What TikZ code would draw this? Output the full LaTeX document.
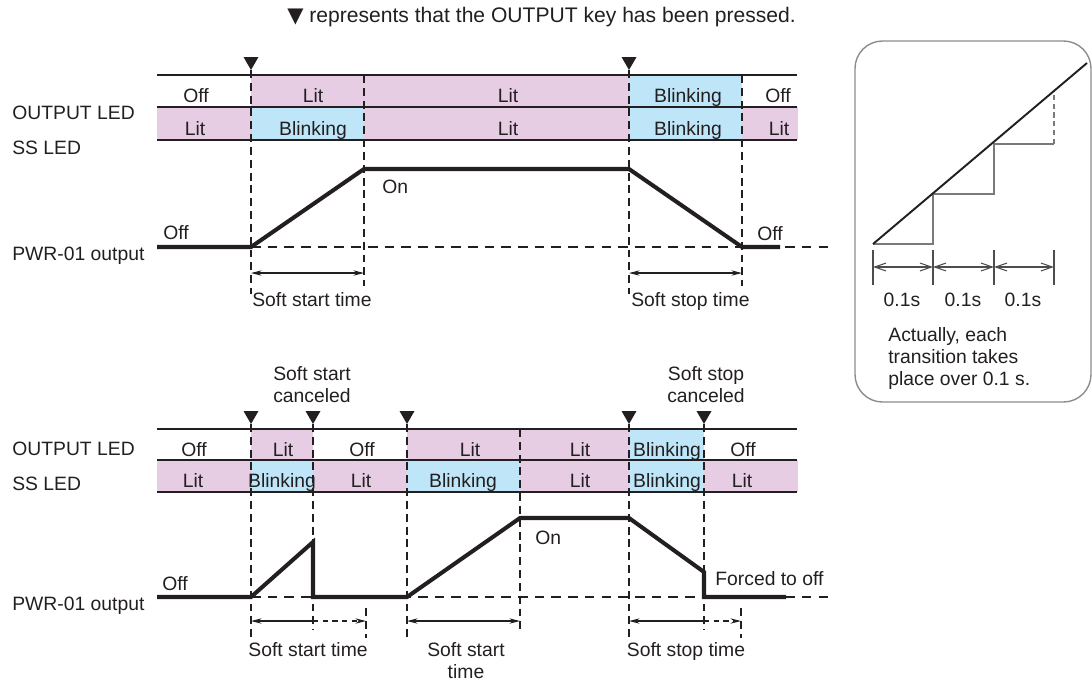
\documentclass[tikz,border=0pt]{standalone}
\usepackage{fontspec}
\setmainfont{Liberation Sans}
\newfontfamily\symfont{DejaVu Sans}
\usetikzlibrary{arrows.meta}

\definecolor{inkgray}{HTML}{231F20}
\definecolor{litpink}{HTML}{E6CDE4}
\definecolor{blinkblue}{HTML}{BEE6F8}
\definecolor{framegray}{HTML}{8C8C8C}
\definecolor{stepgray}{HTML}{7A7A7A}

\begin{document}
\begin{tikzpicture}[
    x=0.02cm, y=-0.02cm,
    every node/.style={font=\fontsize{11}{12.5}\selectfont, text=inkgray, inner sep=0pt},
    cell/.style={anchor=base},
    lbl/.style={anchor=base west},
    rule/.style={draw=inkgray, line width=0.9pt},
    guide/.style={draw=inkgray, line width=0.6pt, dash pattern=on 4.5pt off 2.8pt},
    zero/.style={draw=inkgray, line width=1.1pt, dash pattern=on 5.5pt off 4pt},
    wave/.style={draw=inkgray, line width=2.3pt},
    span/.style={draw=inkgray, line width=0.6pt},
    tmark/.tip={Stealth[length=6pt, width=3pt]},
    barbtip/.tip={Straight Barb[length=6.5pt, width=4.5pt]},
    keymark/.style={fill=inkgray}
  ]
  \useasboundingbox (0,0) rectangle (1092,684);

  % header
  \node[lbl, font=\fontsize{12}{14}\selectfont] (legend) at (287,22)
        {{\symfont ▼} represents that the OUTPUT key has been pressed.};

  %% ---------- upper chart ----------
  \fill[litpink]   (251,75)  rectangle (629,107);
  \fill[blinkblue] (629,75)  rectangle (742,107);
  \fill[litpink]   (157,107) rectangle (251,140);
  \fill[blinkblue] (251,107) rectangle (364,140);
  \fill[litpink]   (364,107) rectangle (629,140);
  \fill[blinkblue] (629,107) rectangle (742,140);
  \fill[litpink]   (742,107) rectangle (798,140);
  \draw[rule] (157,75)  -- (797,75);
  \draw[rule] (157,107) -- (797,107);
  \draw[rule] (157,140) -- (797,140);

  \foreach \x in {251,629}
    \fill[keymark] (\x,70) -- ++(-7.5,-13) -- ++(15,0) -- cycle;

  \draw[guide] (251,70) -- (251,294);
  \draw[guide] (364,75) -- (364,286);
  \draw[guide] (629,70) -- (629,294);
  \draw[guide] (742,75) -- (742,286);

  \node[lbl] (outA) at (12,119) {OUTPUT LED};
  \node[lbl] (ssA)  at (12,154) {SS LED};
  \node[lbl] (pwrA) at (12,260) {PWR-01 output};

  \node[cell] (a1) at (196,102) {Off};
  \node[cell] (a2) at (313,102) {Lit};
  \node[cell] (a3) at (508,102) {Lit};
  \node[cell] (a4) at (688,102) {Blinking};
  \node[cell] (a5) at (778,102) {Off};
  \node[cell] (b1) at (195,135) {Lit};
  \node[cell] (b2) at (313,135) {Blinking};
  \node[cell] (b3) at (508,135) {Lit};
  \node[cell] (b4) at (688,135) {Blinking};
  \node[cell] (b5) at (779,135) {Lit};

  \coordinate (p0) at (157,247);
  \coordinate (p1) at (251,247);
  \coordinate (p2) at (364,169);
  \coordinate (p3) at (629,169);
  \coordinate (p4) at (742,247);
  \coordinate (p5) at (780,247);
  \coordinate (pz) at (835,247);
  \draw[zero] (p1) -- (pz);
  \draw[wave] (p0) -- (p1) -- (p2) -- (p3) -- (p4) -- (p5);

  \node[lbl] (offA)  at (163,239) {Off};
  \node[lbl] (onA)   at (382,193) {On};
  \node[lbl] (offA2) at (757,240) {Off};

  \coordinate (s1) at (251,273);
  \coordinate (s2) at (364,273);
  \coordinate (s3) at (629,273);
  \coordinate (s4) at (742,273);
  \draw[span, tmark-tmark] (s1) -- (s2);
  \draw[span, tmark-tmark] (s3) -- (s4);
  \node[lbl] (sstA) at (252,306) {Soft start time};
  \node[lbl] (sspA) at (631,306) {Soft stop time};

  %% ---------- lower chart ----------
  \node[cell, align=center] (cancA) at (312,402) {Soft start\\canceled};
  \node[cell, align=center] (cancB) at (706,402) {Soft stop\\canceled};

  \fill[litpink]   (251,429) rectangle (313,460);
  \fill[litpink]   (407,429) rectangle (629,460);
  \fill[blinkblue] (629,429) rectangle (704,460);
  \fill[litpink]   (157,460) rectangle (251,492);
  \fill[blinkblue] (251,460) rectangle (313,492);
  \fill[litpink]   (313,460) rectangle (407,492);
  \fill[blinkblue] (407,460) rectangle (520,492);
  \fill[litpink]   (520,460) rectangle (629,492);
  \fill[blinkblue] (629,460) rectangle (704,492);
  \fill[litpink]   (704,460) rectangle (798,492);
  \draw[rule] (157,429) -- (797,429);
  \draw[rule] (157,460) -- (797,460);
  \draw[rule] (157,492) -- (797,492);

  \foreach \x in {251,313,407,629,704}
    \fill[keymark] (\x,424) -- ++(-7.5,-13) -- ++(15,0) -- cycle;

  \draw[guide] (251,424) -- (251,640);
  \draw[guide] (313,424) -- (313,630);
  \draw[guide] (407,424) -- (407,638);
  \draw[guide] (520,429) -- (520,632);
  \draw[guide] (629,424) -- (629,640);
  \draw[guide] (704,424) -- (704,630);
  \draw[guide] (366,608) -- (366,638);
  \draw[guide] (741,608) -- (741,638);

  \node[lbl] (outB) at (12,455) {OUTPUT LED};
  \node[lbl] (ssB)  at (12,490) {SS LED};
  \node[lbl] (pwrB) at (12,610) {PWR-01 output};

  \node[cell] (c1) at (194,456) {Off};
  \node[cell] (c2) at (283,456) {Lit};
  \node[cell] (c3) at (362,456) {Off};
  \node[cell] (c4) at (470,456) {Lit};
  \node[cell] (c5) at (580,456) {Lit};
  \node[cell] (c6) at (667,456) {Blinking};
  \node[cell] (c7) at (743,456) {Off};
  \node[cell] (d1) at (193,487) {Lit};
  \node[cell] (d2) at (282,487) {Blinking};
  \node[cell] (d3) at (361,487) {Lit};
  \node[cell] (d4) at (463,487) {Blinking};
  \node[cell] (d5) at (580,487) {Lit};
  \node[cell] (d6) at (667,487) {Blinking};
  \node[cell] (d7) at (742,487) {Lit};

  \coordinate (q0) at (157,597);
  \coordinate (q1) at (251,597);
  \coordinate (q2) at (313,542);
  \coordinate (q3) at (313,597);
  \coordinate (q4) at (407,597);
  \coordinate (q5) at (520,518);
  \coordinate (q6) at (629,518);
  \coordinate (q7) at (704,572);
  \coordinate (q8) at (704,597);
  \coordinate (q9) at (786,597);
  \coordinate (qz) at (832,597);
  \draw[zero] (q1) -- (qz);
  \draw[wave] (q0) -- (q1) -- (q2) -- (q3) -- (q4) -- (q5) -- (q6) -- (q7) -- (q8) -- (q9);

  \node[lbl] (offB)  at (162,590) {Off};
  \node[lbl] (onB)   at (535,544) {On};
  \node[lbl] (forcB) at (715,585) {Forced to off};

  \coordinate (u1) at (251,621);
  \coordinate (u2) at (313,621);
  \coordinate (u3) at (366,621);
  \coordinate (u4) at (407,621);
  \coordinate (u5) at (520,621);
  \coordinate (u6) at (629,621);
  \coordinate (u7) at (704,621);
  \coordinate (u8) at (741,621);
  \draw[span, tmark-] (u1) -- (u2);
  \draw[span, dash pattern=on 3pt off 2.5pt, -tmark] (u2) -- (u3);
  \draw[span, tmark-tmark] (u4) -- (u5);
  \draw[span, tmark-] (u6) -- (u7);
  \draw[span, dash pattern=on 3pt off 2.5pt, -tmark] (u7) -- (u8);

  \node[cell] (sstB) at (308,656) {Soft start time};
  \node[cell, align=center] (sstC) at (466,678) {Soft start\\time};
  \node[cell] (sspB) at (686,656) {Soft stop time};

  %% ---------- inset ----------
  \draw[framegray, line width=0.8pt, rounded corners=0.55cm] (855,41) rectangle (1091,402);

  \coordinate (r0) at (873,244);
  \coordinate (r1) at (1087,63);
  \draw[stepgray, line width=0.7pt] (r0) -- (933,244) -- (933,194) -- (994,194)
        -- (994,144) -- (1054,144);
  \draw[stepgray, line width=0.7pt, dash pattern=on 3pt off 2pt] (1054,144) -- (1054,91);
  \draw[inkgray, line width=1.1pt] (r0) -- (r1);

  \foreach \x in {873,933,994,1054}
    \draw[inkgray!80, line width=0.7pt] (\x,250) -- (\x,285);
  \coordinate (w0) at (873,267);
  \coordinate (w1) at (933,267);
  \coordinate (w2) at (994,267);
  \coordinate (w3) at (1054,267);
  \draw[span, inkgray!80, barbtip-barbtip] (w0) -- (w1);
  \draw[span, inkgray!80, barbtip-barbtip] (w1) -- (w2);
  \draw[span, inkgray!80, barbtip-barbtip] (w2) -- (w3);

  \node[cell] (t1) at (902,306)  {0.1s};
  \node[cell] (t2) at (963,306)  {0.1s};
  \node[cell] (t3) at (1023,306) {0.1s};
  \node[lbl, align=left] (note) at (888,385)
        {Actually, each\\transition takes\\place over 0.1 s.};
\end{tikzpicture}
\end{document}
